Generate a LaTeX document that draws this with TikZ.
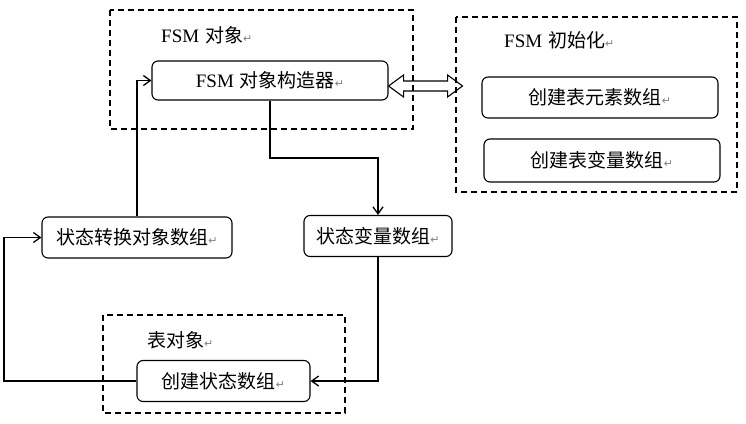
\documentclass[tikz,border=0pt]{standalone}
\usepackage{fontspec}
\setmainfont{Noto Sans CJK SC}
\newfontfamily\latfont{Liberation Serif}
\newfontfamily\symfont{DejaVu Sans}
\usetikzlibrary{arrows.meta}
\newcommand{\ret}{{\symfont\fontsize{11}{11}\selectfont\color{gray}↵}}

\begin{document}
\begin{tikzpicture}[x=1pt,y=-1pt,font=\fontsize{19}{21}\selectfont,
  box/.style={draw,rounded corners=6pt,line width=1.1pt,minimum height=41pt,inner sep=0pt},
  groupbox/.style={draw,line width=1.4pt,dash pattern=on 6pt off 4pt},
  title/.style={anchor=west,inner sep=0pt},
  link/.style={line width=1.3pt,-{Straight Barb[length=7pt,width=10pt]}}]
\useasboundingbox (0,0) rectangle (746,423);
\draw[groupbox] (110,10) rectangle (413,129);
\draw[groupbox] (456,17) rectangle (737,192);
\draw[groupbox] (103,315) rectangle (345,413);
\node[title] (lobj) at (161,35) {{\latfont FSM}\hspace{6pt}对象\ret};
\node[title] (linit) at (504,40) {{\latfont FSM}\hspace{6pt}初始化\ret};
\node[title] (ltbl) at (147,340) {表对象\ret};
\node[box,minimum width=236pt,minimum height=39pt] (ctor) at (270,80.5) {{\latfont FSM}\hspace{6pt}对象构造器\ret};
\node[box,minimum width=236pt] (elem) at (600,97.5) {创建表元素数组\ret};
\node[box,minimum width=236pt,minimum height=43pt] (var) at (602,160.5) {创建表变量数组\ret};
\node[box,minimum width=190pt] (trans) at (137,237.5) {状态转换对象数组\ret};
\node[box,minimum width=148pt] (svar) at (378,236) {状态变量数组\ret};
\node[box,minimum width=173pt] (cstate) at (223.5,381) {创建状态数组\ret};
\coordinate (bend) at (378,158);
\coordinate (loop) at (4,381);
\draw[link] (ctor.south) |- (bend) -- (svar.north);
\draw[link] (svar.south) |- (cstate.east);
\draw[link] (cstate.west) -- (loop) |- (trans.west);
\draw[link] (trans.north) |- (ctor.west);
\draw[line width=1.1pt] ([yshift=-5.5pt]ctor.east) -- ++(15,-11) -- ++(0,6) -- ++(44,0) -- ++(0,-6)
  -- ++(15,11) -- ++(-15,11) -- ++(0,-6) -- ++(-44,0) -- ++(0,6) -- cycle;
\end{tikzpicture}
\end{document}
